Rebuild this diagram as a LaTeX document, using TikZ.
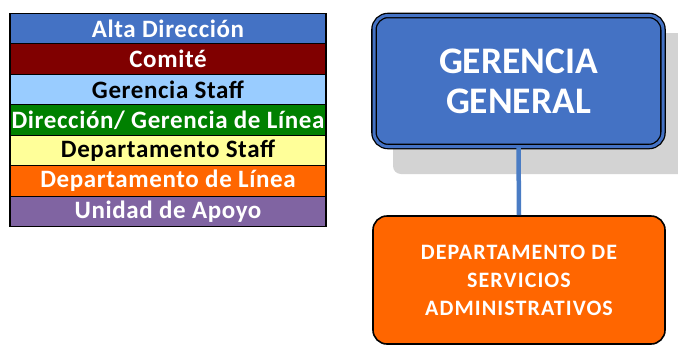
\documentclass[tikz,border=0pt]{standalone}
\usepackage{fontspec}
\setmainfont{Carlito}
\usepackage{tikz}
\usetikzlibrary{positioning}

\definecolor{altadir}{HTML}{4472C4}
\definecolor{comite}{HTML}{800000}
\definecolor{gerstaff}{HTML}{99CCFF}
\definecolor{dirlinea}{HTML}{008000}
\definecolor{depstaff}{HTML}{FFFF99}
\definecolor{deplinea}{HTML}{FF6600}
\definecolor{unidad}{HTML}{8064A2}
\definecolor{linkblue}{HTML}{4A7CC4}
\definecolor{shadowgray}{HTML}{D3D3D3}

\tikzset{
  legrow/.style={draw=black, line width=1.2pt, minimum width=316pt, minimum height=30.5pt,
    inner sep=0pt, anchor=north,
    font=\fontsize{25}{25}\selectfont\bfseries\addfontfeatures{LetterSpace=2.5}},
  gerbox/.style={draw=black, line width=1.3pt, double=altadir, double distance=3pt,
    fill=altadir, rounded corners=14pt, minimum width=289pt, minimum height=131pt,
    text=white, align=center, font=\fontsize{37.5}{40}\selectfont\bfseries},
  depbox/.style={draw=black, line width=1.6pt, fill=deplinea, rounded corners=14pt,
    minimum width=292pt, minimum height=128pt, text=white, align=center,
    font=\fontsize{22}{28}\selectfont\bfseries\addfontfeatures{LetterSpace=5}},
  link/.style={linkblue, line width=4.5pt}
}

\begin{document}
\begin{tikzpicture}[x=1pt,y=-1pt]
                \useasboundingbox (0,0) rectangle (678,346);
                % leyenda
                \node [legrow, fill=altadir, text=white] (alta) at (168,12.5) {Alta Dirección};
                \node [legrow, fill=comite, text=white] (comite) at (168,43) {Comité};
                \node [legrow, fill=gerstaff, text=black] (gstaff) at (168,73.5) {Gerencia Staff};
                \node [legrow, fill=dirlinea, text=white] (dlinea) at (168,104) {Dirección/ Gerencia de Línea};
                \node [legrow, fill=depstaff, text=black] (dstaff) at (168,134.5) {Departamento Staff};
                \node [legrow, fill=deplinea, text=white] (dplinea) at (168,165) {Departamento de Línea};
                \node [legrow, fill=unidad, text=white] (unidad) at (168,195.5) {Unidad de Apoyo};
                % organigrama
                \fill [shadowgray, rounded corners=8pt] (393,33) rectangle (690,174);
                \node [gerbox] (gg) at (518.5,81) {GERENCIA\\GENERAL};
                \node [depbox] (dsa) at (519,280) {DEPARTAMENTO DE\\SERVICIOS\\ADMINISTRATIVOS};
                \draw [link] (gg.south) -- (dsa.north);
\end{tikzpicture}
\end{document}
